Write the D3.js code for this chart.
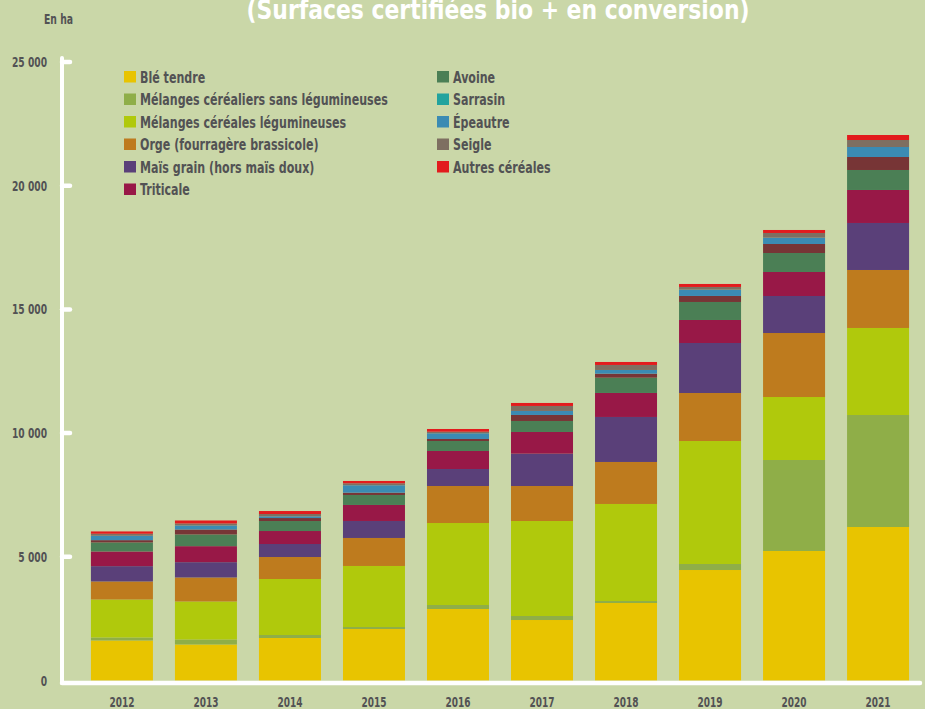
<!DOCTYPE html>
<html>
<head>
<meta charset="utf-8">
<script src="https://cdn.jsdelivr.net/npm/d3@7"></script>
<style>
  html, body { margin: 0; padding: 0; background: #cad7a8; }
  svg { display: block; }
  text { font-family: "Liberation Sans Narrow", "DejaVu Sans Condensed", "Roboto", sans-serif; font-weight: bold; }
</style>
</head>
<body>
<svg id="chart" width="925" height="709"></svg>
<script>
// Surfaces en céréales bio (ha), par culture et par année
const years = ["2012", "2013", "2014", "2015", "2016", "2017", "2018", "2019", "2020", "2021"];

const cultures = [
  "Blé tendre",
  "Mélanges céréaliers sans légumineuses",
  "Mélanges céréales légumineuses",
  "Orge (fourragère brassicole)",
  "Maïs grain (hors maïs doux)",
  "Triticale",
  "Avoine",
  "Sarrasin",
  "Épeautre",
  "Seigle",
  "Autres céréales"
];

const bleTendre      = [1617, 1455, 1718, 2082, 2890, 2445, 3133, 4466, 5235, 6205];
const melangesSans   = [ 121,  202,  121,   81,  162,  162,   81,  243, 3678, 4527];
const melangesLegum  = [1536, 1536, 2264, 2466, 3314, 3840, 3921, 4972, 2546, 3517];
const orge           = [ 728,  970,  889, 1132, 1496, 1415, 1698, 1940, 2587, 2344];
const maisGrain      = [ 620,  620,  525,  687,  687, 1306, 1819, 2021, 1496, 1900];
const triticale      = [ 594,  647,  525,  647,  728,  877,  970,  930,  970, 1334];
const avoine         = [ 364,  472,  404,  404,  404,  445,  618,  728,  768,  808];
const sarrasin       = [  93,  202,  121,   93,   81,  243,  162,  243,  364,  525];
const epeautre       = [ 178,  162,   69,  299,  230,  162,  150,  255,  255,  404];
const seigle         = [  81,   81,   93,   81,   65,  202,  202,  109,  190,  283];
const autresCereales = [  93,  121,  121,   93,  109,  121,  121,  121,  121,  202];

const yTicks = [0, 5000, 10000, 15000, 20000, 25000];

const seriesValues = [bleTendre, melangesSans, melangesLegum, orge, maisGrain, triticale,
                      avoine, sarrasin, epeautre, seigle, autresCereales];

// Colours of the stacked layers
const barColors = ["#e8c400", "#8fae48", "#b0c90c", "#be7b1e", "#5a4079", "#981847",
                   "#4b7f55", "#773536", "#3b8bb3", "#7e6f61", "#e21b1d"];
// Colours of the legend squares
const legendColors = ["#e8c400", "#8fae48", "#b0c90c", "#be7b1e", "#5a4079", "#981847",
                      "#4b7f55", "#22a39e", "#3b8bb3", "#7e6f61", "#e21b1d"];

const rows = years.map((yr, i) => {
  const r = { year: yr };
  cultures.forEach((c, k) => { r[c] = seriesValues[k][i]; });
  return r;
});

const svg = d3.select("#chart");
const textColor = "#525254";

// Narrow the glyphs of a text selection horizontally by factor k
function condense(sel, k) {
  sel.each(function () {
    const w = this.getComputedTextLength();
    d3.select(this).attr("textLength", w * k).attr("lengthAdjust", "spacingAndGlyphs");
  });
}
function widthOf(str, size) {
  const t = svg.append("text").attr("font-size", size).text(str);
  const w = t.node().getComputedTextLength();
  t.remove();
  return w;
}

const x = d3.scaleBand().domain(years).range([80, 920]).paddingInner(0.262).paddingOuter(0.13);
const y = d3.scaleLinear().domain([0, 25000]).range([680.5, 62]);
const color = d3.scaleOrdinal().domain(cultures).range(barColors);

const stacked = d3.stack().keys(cultures)(rows);

// Stacked bars
svg.append("g")
  .selectAll("g")
  .data(stacked)
  .join("g")
  .attr("fill", d => color(d.key))
  .selectAll("rect")
  .data(d => d)
  .join("rect")
  .attr("x", d => x(d.data.year))
  .attr("width", x.bandwidth())
  .attr("y", d => y(d[1]))
  .attr("height", d => y(d[0]) - y(d[1]));

// Axes in white with rounded ends
const axisG = svg.append("g")
  .attr("stroke", "#ffffff")
  .attr("stroke-linecap", "round")
  .attr("fill", "none");

axisG.append("line")
  .attr("x1", 62).attr("x2", 62)
  .attr("y1", y(25000) - 4).attr("y2", 683)
  .attr("stroke-width", 4);

axisG.append("line")
  .attr("x1", 62).attr("x2", 920)
  .attr("y1", 683).attr("y2", 683)
  .attr("stroke-width", 4.5);

axisG.selectAll("line.tick")
  .data(yTicks.filter(v => v > 0))
  .join("line")
  .attr("class", "tick")
  .attr("x1", 62).attr("x2", 70)
  .attr("y1", d => y(d)).attr("y2", d => y(d))
  .attr("stroke-width", 4.5);

// Y tick labels
const tickSize = 14;
const kTick = 35 / widthOf("25 000", tickSize);
const fmt = v => v === 0 ? "0" : d3.format(",")(v).replace(",", " ");
svg.append("g")
  .selectAll("text")
  .data(yTicks)
  .join("text")
  .attr("x", 47)
  .attr("y", d => y(d))
  .attr("dy", "0.36em")
  .attr("text-anchor", "end")
  .attr("font-size", tickSize)
  .attr("fill", textColor)
  .text(fmt)
  .call(condense, kTick);

// Year labels
const kYear = 25 / widthOf("2012", tickSize);
svg.append("g")
  .selectAll("text")
  .data(years)
  .join("text")
  .attr("x", d => x(d) + x.bandwidth() / 2)
  .attr("y", 706.5)
  .attr("text-anchor", "middle")
  .attr("font-size", tickSize)
  .attr("fill", textColor)
  .text(d => d)
  .call(condense, kYear);

// Unit
svg.append("text")
  .attr("x", 44).attr("y", 24)
  .attr("font-size", tickSize)
  .attr("fill", textColor)
  .text("En ha")
  .call(condense, 29 / widthOf("En ha", tickSize));

// Title (partly above the top edge)
svg.append("text")
  .attr("x", 498).attr("y", 19)
  .attr("text-anchor", "middle")
  .attr("font-size", 27)
  .attr("fill", "#ffffff")
  .attr("textLength", 503)
  .attr("lengthAdjust", "spacingAndGlyphs")
  .text("(Surfaces certifiées bio + en conversion)");

// Legend in two columns
const legendSize = 16.5;
const kLegend = 248 / widthOf(cultures[1], legendSize);
const legendItems = cultures.map((c, k) => ({
  name: c,
  swatch: legendColors[k],
  col: k < 6 ? 0 : 1,
  row: k < 6 ? k : k - 6
}));

const leg = svg.append("g")
  .selectAll("g")
  .data(legendItems)
  .join("g")
  .attr("transform", d => `translate(${d.col === 0 ? 124 : 437},${71 + d.row * 22.5})`);

leg.append("rect")
  .attr("width", 12).attr("height", 11.5)
  .attr("fill", d => d.swatch);

leg.append("g")
  .attr("transform", `translate(16,11.5) scale(${kLegend},1)`)
  .append("text")
  .attr("font-size", legendSize)
  .attr("fill", textColor)
  .text(d => d.name);
</script>
</body>
</html>
